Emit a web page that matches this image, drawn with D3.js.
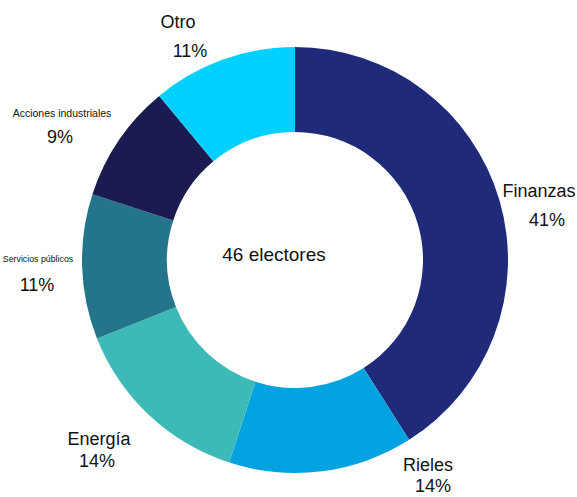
<!DOCTYPE html>
<html>
<head>
<meta charset="utf-8">
<script src="https://cdn.jsdelivr.net/npm/d3@7"></script>
<style>
  html, body { margin: 0; padding: 0; background: #ffffff; }
  svg { display: block; }
  text { font-family: "Liberation Sans", Arial, sans-serif; fill: #111111; }
</style>
</head>
<body>
<svg id="chart" width="577" height="497"></svg>
<script>
// Sector shares of the 46 electors (percent)
const sectors = ["Finanzas", "Rieles", "Energía", "Servicios públicos", "Acciones industriales", "Otro"];
const shares = [41, 14, 14, 11, 9, 11];
const sliceColors = ["#1f2a78", "#00a2e0", "#3dbab8", "#25758a", "#1a1b51", "#00d0ff"];
const centerText = "46 electores";

// Label placement: name and percentage anchors per sector
const labelLayout = [
  { nx: 539, ny: 197, px: 547, py: 226, ns: 18 },
  { nx: 428, ny: 471, px: 433, py: 492, ns: 18 },
  { nx: 99,  ny: 445, px: 97,  py: 467, ns: 18 },
  { nx: 38,  ny: 262, px: 37,  py: 291, ns: 8.8 },
  { nx: 62,  ny: 117, px: 60,  py: 143, ns: 10.5 },
  { nx: 178, ny: 28,  px: 190, py: 57,  ns: 18 }
];

const cx = 295, cy = 260, outerR = 213, innerR = 128;

const svg = d3.select("#chart");
const g = svg.append("g").attr("transform", `translate(${cx},${cy})`);

const data = sectors.map((s, i) => ({ name: s, value: shares[i], color: sliceColors[i] }));

const pie = d3.pie().value(d => d.value).sort(null);
const arc = d3.arc().innerRadius(innerR).outerRadius(outerR);

g.selectAll("path.slice")
  .data(pie(data))
  .join("path")
  .attr("class", "slice")
  .attr("d", arc)
  .attr("fill", d => d.data.color);

// Center caption
svg.append("text")
  .attr("x", 274)
  .attr("y", 261)
  .attr("text-anchor", "middle")
  .attr("font-size", 19)
  .text(centerText);

// Sector labels
const labels = svg.selectAll("g.label")
  .data(data)
  .join("g")
  .attr("class", "label");

labels.append("text")
  .attr("x", (d, i) => labelLayout[i].nx)
  .attr("y", (d, i) => labelLayout[i].ny)
  .attr("text-anchor", "middle")
  .attr("font-size", (d, i) => labelLayout[i].ns)
  .text(d => d.name);

labels.append("text")
  .attr("x", (d, i) => labelLayout[i].px)
  .attr("y", (d, i) => labelLayout[i].py)
  .attr("text-anchor", "middle")
  .attr("font-size", 18)
  .text(d => d.value + "%");
</script>
</body>
</html>
